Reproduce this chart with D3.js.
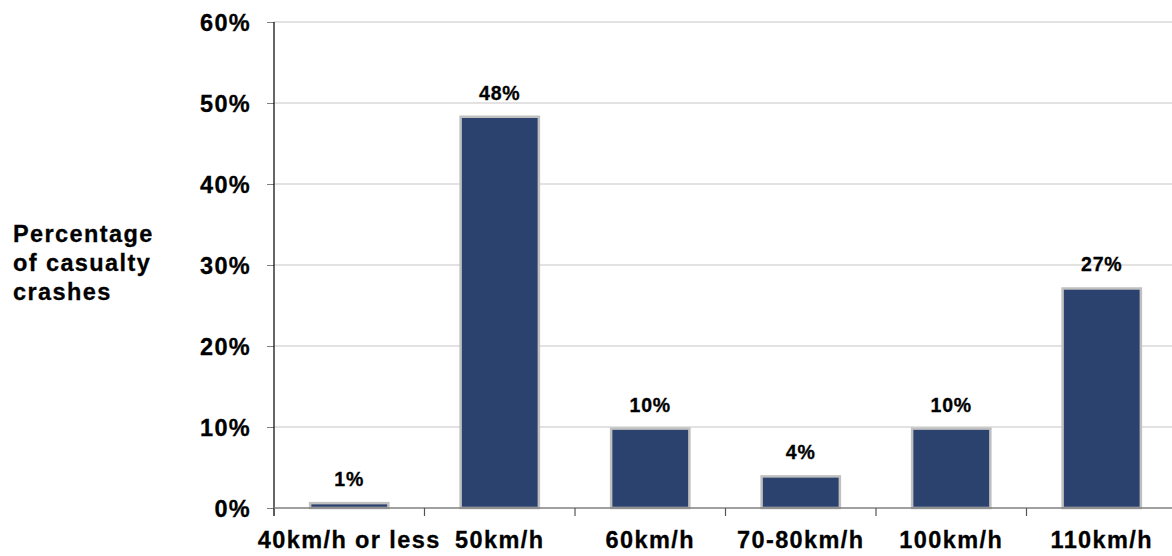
<!DOCTYPE html>
<html><head><meta charset="utf-8">
<script src="https://cdn.jsdelivr.net/npm/d3@7"></script>
<style>
html,body{margin:0;padding:0;background:#fff;}
svg text{font-family:"Liberation Sans",Arial,sans-serif;font-weight:bold;fill:#000;stroke:#000;stroke-width:0.3px;}
</style></head>
<body><svg id="c" width="1172" height="556"></svg>
<script>
const categories = ["40km/h or less","50km/h","60km/h","70-80km/h","100km/h","110km/h"];
const values = [0.6, 48.3, 9.8, 3.9, 9.8, 27.1];
const valueLabels = ["1%","48%","10%","4%","10%","27%"];
const yTicks = [0,10,20,30,40,50,60];
const yTitle = ["Percentage","of casualty","crashes"];

const svg = d3.select("#c");
const mLeft = 274, mRight = 1177, mTop = 22, mBottom = 508;
const x = d3.scaleBand().domain(categories).range([mLeft,mRight]).paddingInner(0.48).paddingOuter(0.24);
const y = d3.scaleLinear().domain([0,60]).range([mBottom,mTop]);

// gridlines
svg.append("g").selectAll("line").data(yTicks.filter(d=>d>0)).join("line")
  .attr("x1",mLeft).attr("x2",1172).attr("y1",d=>y(d)).attr("y2",d=>y(d))
  .attr("stroke","#d9d9d9").attr("stroke-width",1.5);

// y axis
const yAxis = d3.axisLeft(y).tickValues(yTicks).tickSize(7).tickPadding(16).tickFormat(d=>d+"%");
const gy = svg.append("g").attr("transform",`translate(${mLeft},0)`).call(yAxis);
gy.select(".domain").remove();
gy.selectAll(".tick line").attr("stroke","#808080");
gy.selectAll(".tick text").style("font-size","23.5px").style("letter-spacing","1.3px").attr("dy","0.36em");
svg.append("line").attr("x1",mLeft).attr("x2",mLeft).attr("y1",mTop).attr("y2",mBottom+8)
  .attr("stroke","#000").attr("stroke-width",1.2);

// bars
svg.append("g").selectAll("rect").data(values).join("rect")
  .attr("x",(d,i)=>x(categories[i])).attr("width",x.bandwidth())
  .attr("y",d=>y(d)).attr("height",d=>mBottom-y(d))
  .attr("fill","#2b426f").attr("stroke","#c0c0c0").attr("stroke-width",2.5);

// x axis line and ticks at band boundaries
svg.append("line").attr("x1",mLeft).attr("x2",1172).attr("y1",mBottom).attr("y2",mBottom)
  .attr("stroke","#808080").attr("stroke-width",1.5);
const step = x.step();
const boundaries = categories.map((c,i)=>i).concat([categories.length]);
svg.append("g").selectAll("line").data(boundaries).join("line")
  .attr("x1",i=>mLeft+i*step).attr("x2",i=>mLeft+i*step)
  .attr("y1",mBottom).attr("y2",mBottom+8).attr("stroke","#555").attr("stroke-width",1.2);

// category labels
svg.append("g").selectAll("text").data(categories).join("text")
  .attr("x",d=>x(d)+x.bandwidth()/2).attr("y",548)
  .attr("text-anchor","middle").style("font-size","23.5px").style("letter-spacing","1.4px")
  .text(d=>d);

// value labels
svg.append("g").selectAll("text").data(values).join("text")
  .attr("x",(d,i)=>x(categories[i])+x.bandwidth()/2).attr("y",d=>y(d)-17)
  .attr("text-anchor","middle").style("font-size","19.5px").style("letter-spacing","0.8px")
  .text((d,i)=>valueLabels[i]);

// y title
svg.append("text").attr("x",13).attr("y",242).style("font-size","23.5px").style("letter-spacing","1.4px")
  .selectAll("tspan").data(yTitle).join("tspan")
  .attr("x",13).attr("dy",(d,i)=>i===0?0:29).text(d=>d);
</script>
</body></html>
